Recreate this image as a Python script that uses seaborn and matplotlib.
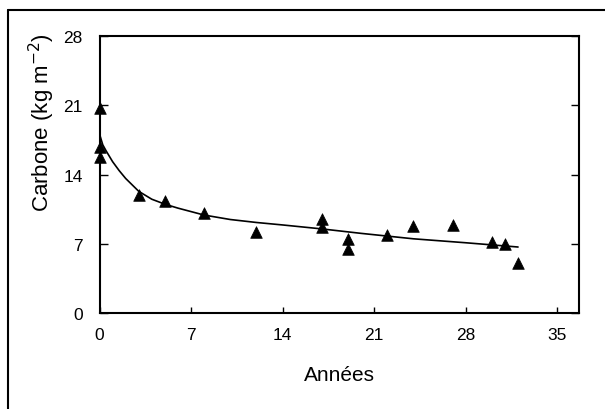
import matplotlib
matplotlib.use("Agg")
import matplotlib.pyplot as plt
import seaborn as sns
import pandas as pd
from matplotlib.lines import Line2D

# Observations (years, carbon kg m-2)
obs_years = [0, 0, 0, 3, 5, 8, 12, 17, 17, 19, 19, 22, 24, 27, 30, 31, 32]
obs_carbon = [20.7, 16.8, 15.8, 11.95, 11.3, 10.1, 8.15, 9.5, 8.7, 7.5, 6.5, 7.9, 8.8, 8.85, 7.15, 7.0, 5.05]

# Fitted curve
fit_years = [0, 0.25, 0.5, 1, 1.5, 2, 3, 4, 5, 6, 8, 10, 12, 14, 17, 20, 24, 28, 32]
fit_carbon = [18.1, 17.0, 16.4, 15.3, 14.4, 13.6, 12.3, 11.5, 11.0, 10.6, 9.9, 9.45, 9.15, 8.9, 8.5, 8.05, 7.5, 7.1, 6.67]

x_ticks = [0, 7, 14, 21, 28, 35]
y_ticks = [0, 7, 14, 21, 28]

sns.set_style("ticks")
plt.rcParams['font.family'] = ['Liberation Sans', 'DejaVu Sans']

fig = plt.figure(figsize=(6.05, 4.10), dpi=100)
ax = fig.add_axes([99.5/605, 1-314/410, (579-99.5)/605, (314-37)/410])

df_obs = pd.DataFrame({"x": obs_years, "y": obs_carbon})
df_fit = pd.DataFrame({"x": fit_years, "y": fit_carbon})

sns.lineplot(data=df_fit, x="x", y="y", ax=ax, color="black", linewidth=1.2, sort=True)
sns.scatterplot(data=df_obs, x="x", y="y", ax=ax, marker="^", s=70, color="black",
                edgecolor="black", linewidth=0.5, clip_on=False, zorder=5)

ax.set_xlim(0, 36.66)
ax.set_ylim(0, 28)
ax.set_xticks(x_ticks)
ax.set_yticks(y_ticks)
ax.set_xticklabels([str(t) for t in x_ticks], fontsize=12.5)
ax.set_yticklabels([str(t) for t in y_ticks], fontsize=12.5)
ax.tick_params(axis="x", direction="in", length=4, width=1, pad=10, top=False, colors="black")
ax.tick_params(axis="y", direction="in", length=6, width=1, pad=12, right=True, colors="black")
for sp in ax.spines.values():
    sp.set_visible(True)
    sp.set_linewidth(1.5)
    sp.set_color("black")

ax.set_xlabel("Années", fontsize=15, labelpad=17, color="black")
ax.set_ylabel("Carbone (kg m$^{-2}$)", fontsize=16, color="black")
ax.yaxis.set_label_coords(-0.088, 0.69)

# Outer frame (left and top edges visible)
fig.add_artist(Line2D([8/605, 8/605], [0, 1-11/410], transform=fig.transFigure, color="black", linewidth=1.5))
fig.add_artist(Line2D([8/605, 1], [1-11/410, 1-11/410], transform=fig.transFigure, color="black", linewidth=1.5))

fig.savefig("out.png", dpi=100)
